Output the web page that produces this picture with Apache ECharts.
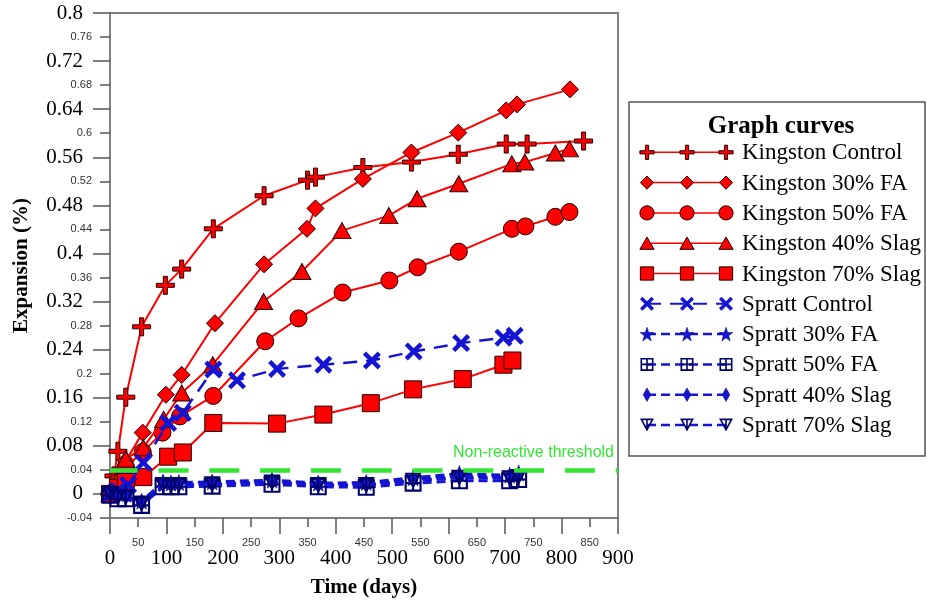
<!DOCTYPE html>
<html>
<head>
<meta charset="utf-8">
<title>Expansion vs time</title>
<script src="https://cdn.jsdelivr.net/npm/echarts@6/dist/echarts.min.js"></script>
<style>
  html, body { margin: 0; padding: 0; background: #fff; }
  #chart { width: 927px; height: 603px; }
</style>
</head>
<body>
<div id="chart"></div>
<script>
// tick values
const xMajorTicks = [0, 100, 200, 300, 400, 500, 600, 700, 800, 900];
const xMinorTicks = [50, 150, 250, 350, 450, 550, 650, 750, 850];
const yMajorTicks = [0, 0.08, 0.16, 0.24, 0.32, 0.4, 0.48, 0.56, 0.64, 0.72, 0.8];
const yMinorTicks = [-0.04, 0.04, 0.12, 0.2, 0.28, 0.36, 0.44, 0.52, 0.6, 0.68, 0.76];

const seriesNames = ['Kingston Control', 'Kingston 30% FA', 'Kingston 50% FA', 'Kingston 40% Slag', 'Kingston 70% Slag',
  'Spratt Control', 'Spratt 30% FA', 'Spratt 50% FA', 'Spratt 40% Slag', 'Spratt 70% Slag'];

// Kingston
const kControlDays = [0, 7, 14, 28, 56, 98, 127, 183, 273, 350, 364, 448, 534, 617, 702, 739, 839];
const kControlVals = [0, 0.03, 0.071, 0.161, 0.278, 0.347, 0.374, 0.441, 0.496, 0.522, 0.527, 0.543, 0.552, 0.565, 0.582, 0.582, 0.587];
const k30FADays = [0, 14, 28, 58, 99, 127, 186, 273, 349, 364, 448, 534, 617, 702, 721, 815];
const k30FAVals = [0, 0.03, 0.055, 0.102, 0.165, 0.198, 0.284, 0.382, 0.441, 0.475, 0.524, 0.568, 0.601, 0.638, 0.648, 0.673];
const k50FADays = [0, 14, 28, 58, 93, 124, 183, 275, 334, 412, 495, 545, 618, 712, 736, 789, 814];
const k50FAVals = [0, 0.02, 0.045, 0.07, 0.102, 0.129, 0.163, 0.254, 0.292, 0.335, 0.355, 0.377, 0.403, 0.441, 0.445, 0.461, 0.469];
const k40SlagDays = [0, 14, 28, 59, 95, 127, 182, 272, 340, 411, 494, 544, 618, 712, 735, 789, 814];
const k40SlagVals = [0, 0.025, 0.058, 0.077, 0.124, 0.168, 0.215, 0.32, 0.37, 0.438, 0.463, 0.491, 0.516, 0.549, 0.552, 0.567, 0.574];
const k70SlagDays = [0, 14, 28, 59, 103, 129, 183, 296, 378, 462, 537, 625, 697, 713];
const k70SlagVals = [0, 0.01, 0.02, 0.028, 0.062, 0.069, 0.118, 0.117, 0.132, 0.151, 0.174, 0.191, 0.215, 0.222];

// Spratt
const sControlDays = [0, 14, 32, 59, 103, 129, 183, 225, 296, 378, 464, 538, 622, 697, 717];
const sControlVals = [0, 0.005, 0.015, 0.052, 0.118, 0.135, 0.207, 0.189, 0.208, 0.215, 0.222, 0.237, 0.251, 0.26, 0.263];
const sMixDays = [0, 14, 28, 56, 94, 108, 122, 181, 287, 369, 454, 537, 619, 708, 724];
const s30FAVals = [0.002, 0, 0.003, -0.012, 0.02, 0.018, 0.019, 0.02, 0.023, 0.018, 0.019, 0.027, 0.034, 0.031, 0.035];
const s50FAVals = [-0.002, -0.008, -0.008, -0.019, 0.012, 0.012, 0.012, 0.013, 0.016, 0.012, 0.011, 0.018, 0.022, 0.022, 0.024];
const s40SlagVals = [0, -0.004, -0.002, -0.015, 0.017, 0.016, 0.016, 0.017, 0.02, 0.016, 0.016, 0.024, 0.03, 0.028, 0.031];
const s70SlagVals = [0, -0.006, -0.006, -0.016, 0.015, 0.015, 0.015, 0.016, 0.019, 0.015, 0.015, 0.022, 0.027, 0.026, 0.028];

const thresholdValue = 0.04;

const RED = '#ff0000', BLUE = '#1414d2', NAVY = '#00006a', GREEN = '#33e633';
const SERIF = '"Liberation Serif", "DejaVu Serif", serif';
const SANS = '"Liberation Sans", Arial, sans-serif';

// marker shapes
const SYM = {
  plus: 'M7,0H11V7H18V11H11V18H7V11H0V7H7Z',
  diamond: 'M9,0L18,9L9,18L0,9Z',
  circle: 'M0,9A9,9 0 1 1 18,9A9,9 0 1 1 0,9Z',
  triangle: 'M9,0L18,16H0Z',
  square: 'M0,0H18V18H0Z',
  cross: 'M0,3.5L3.5,0L10,6.5L16.5,0L20,3.5L13.5,10L20,16.5L16.5,20L10,13.5L3.5,20L0,16.5L6.5,10Z',
  star: 'M10,0.5L12.35,7.26L19.51,7.41L13.8,11.74L15.88,18.59L10,14.5L4.12,18.59L6.2,11.74L0.49,7.41L7.65,7.26Z',
  boxplus: 'M0,0H18V18H0Z M2.2,2.2V7.9H7.9V2.2Z M10.1,2.2V7.9H15.8V2.2Z M2.2,10.1V15.8H7.9V10.1Z M10.1,10.1V15.8H15.8V10.1Z',
  thinDiamond: 'M5,0L10,9L5,18L0,9Z',
  invTri: 'M0,0H18L9,16Z M3.5,2L8,9.94V2Z M10,2V9.94L14.5,2Z'
};

const looks = [
  { sym: 'plus', size: [18, 18], leg: [15, 15], fill: RED, border: '#220000', bw: 1, line: RED, width: 2, dash: null },
  { sym: 'diamond', size: [17, 17], leg: [14, 14], fill: RED, border: '#220000', bw: 1, line: RED, width: 2, dash: null },
  { sym: 'circle', size: [17, 17], leg: [15, 15], fill: RED, border: '#220000', bw: 1, line: RED, width: 2, dash: null },
  { sym: 'triangle', size: [18, 16], leg: [15, 13], fill: RED, border: '#220000', bw: 1, line: RED, width: 2, dash: null },
  { sym: 'square', size: [17, 17], leg: [14, 14], fill: RED, border: '#220000', bw: 1, line: RED, width: 2, dash: null },
  { sym: 'cross', size: [18, 18], leg: [14, 14], fill: BLUE, border: BLUE, bw: 0, line: BLUE, width: 2.5, dash: [14, 9] },
  { sym: 'star', size: [16, 16], leg: [14, 14], fill: BLUE, border: NAVY, bw: 0.5, line: BLUE, width: 3, dash: [9, 5] },
  { sym: 'boxplus', size: [17, 17], leg: [13, 13], fill: NAVY, border: NAVY, bw: 0, line: BLUE, width: 3, dash: [9, 5] },
  { sym: 'thinDiamond', size: [9, 17], leg: [8, 14], fill: BLUE, border: NAVY, bw: 0.5, line: BLUE, width: 3, dash: [9, 5] },
  { sym: 'invTri', size: [17, 16], leg: [14, 13], fill: NAVY, border: NAVY, bw: 0, line: BLUE, width: 3, dash: [9, 5] }
];

const dataSets = [
  [kControlDays, kControlVals], [k30FADays, k30FAVals], [k50FADays, k50FAVals],
  [k40SlagDays, k40SlagVals], [k70SlagDays, k70SlagVals],
  [sControlDays, sControlVals], [sMixDays, s30FAVals], [sMixDays, s50FAVals],
  [sMixDays, s40SlagVals], [sMixDays, s70SlagVals]
];

const series = seriesNames.map((name, i) => {
  const lk = looks[i];
  const [days, vals] = dataSets[i];
  return {
    name: name,
    type: 'line',
    data: days.map((d, j) => [d, vals[j]]),
    symbol: 'path://' + SYM[lk.sym],
    symbolSize: lk.size,
    showAllSymbol: true,
    lineStyle: { color: lk.line, width: lk.width, type: lk.dash || 'solid' },
    itemStyle: { color: lk.fill, borderColor: lk.border, borderWidth: lk.bw },
    z: 2 + i
  };
});

// threshold line and its label
series[0].markLine = {
  silent: true,
  symbol: ['none', 'none'],
  z: 20,
  data: [{ yAxis: thresholdValue }],
  lineStyle: { color: GREEN, width: 4.5, type: [30, 20.8], dashOffset: 2.3 },
  label: {
    show: true, position: 'insideEndTop', formatter: 'Non-reactive threshold',
    color: GREEN, fontSize: 16, fontFamily: SANS, distance: [4, 9]
  },
  emphasis: { disabled: true }
};

// legend drawn as graphic, three markers per row like the original
const legX = [647, 687, 726];
const legTextX = 742;
const rowY0 = 152.3, rowStep = 30.3;
const graphic = [
  { type: 'rect', shape: { x: 629, y: 102, width: 296, height: 354 },
    style: { fill: '#fff', stroke: '#555', lineWidth: 1.5 }, z: 100 },
  { type: 'text', x: 781, y: 127, z: 101,
    style: { text: 'Graph curves', font: 'bold 25px ' + SERIF, fill: '#000',
      align: 'center', verticalAlign: 'middle', textAlign: 'center', textVerticalAlign: 'middle' } }
];
seriesNames.forEach((name, i) => {
  const lk = looks[i];
  const y = rowY0 + i * rowStep;
  graphic.push({ type: 'line', z: 101,
    shape: { x1: legX[0], y1: y, x2: legX[2], y2: y },
    style: { stroke: lk.line, lineWidth: lk.width - 0.5, lineDash: lk.dash || null } });
  graphic.push({ type: 'text', x: legTextX, y: y + 1, z: 101,
    style: { text: name, font: '23px ' + SERIF, fill: '#000',
      align: 'left', verticalAlign: 'middle', textAlign: 'left', textVerticalAlign: 'middle' } });
});

const axisLineStyle = { color: '#808080', width: 2 };

const option = {
  animation: false,
  backgroundColor: '#fff',
  grid: { left: 110, top: 13, right: 309, bottom: 82, show: true, borderColor: '#808080', borderWidth: 2 },
  xAxis: [
    {
      type: 'value', min: 0, max: 900, interval: 50, position: 'bottom',
      axisLine: { show: true, onZero: false, lineStyle: axisLineStyle },
      axisTick: { show: true, length: 9, customValues: xMinorTicks, lineStyle: { color: '#555', width: 1.5 } },
      axisLabel: { customValues: xMinorTicks, fontSize: 11, fontFamily: SANS, color: '#333', margin: 19 },
      splitLine: { show: false },
      name: 'Time (days)', nameLocation: 'middle', nameGap: 59,
      nameTextStyle: { fontSize: 21, fontWeight: 'bold', fontFamily: SERIF, color: '#000' }
    },
    {
      type: 'value', min: 0, max: 900, interval: 100, position: 'bottom',
      axisLine: { show: false, onZero: false },
      axisTick: { show: true, length: 16, customValues: xMajorTicks, lineStyle: { color: '#555', width: 1.5 } },
      axisLabel: { customValues: xMajorTicks, fontSize: 21, fontFamily: SERIF, color: '#000', margin: 30 },
      splitLine: { show: false }
    }
  ],
  yAxis: [
    {
      type: 'value', min: -0.04, max: 0.8, interval: 0.04, position: 'left',
      axisLine: { show: true, onZero: false, lineStyle: axisLineStyle },
      axisTick: { show: true, length: 10, customValues: yMinorTicks, lineStyle: { color: '#555', width: 1.5 } },
      axisLabel: { customValues: yMinorTicks, fontSize: 11, fontFamily: SANS, color: '#333', margin: 18 },
      splitLine: { show: false },
      name: 'Expansion (%)', nameLocation: 'middle', nameGap: 78,
      nameTextStyle: { fontSize: 21, fontWeight: 'bold', fontFamily: SERIF, color: '#000' }
    },
    {
      type: 'value', min: -0.04, max: 0.8, interval: 0.04, position: 'left',
      axisLine: { show: false, onZero: false },
      axisTick: { show: true, length: 17, customValues: yMajorTicks, lineStyle: { color: '#555', width: 1.5 } },
      axisLabel: { customValues: yMajorTicks, fontSize: 21, fontFamily: SERIF, color: '#000', margin: 27 },
      splitLine: { show: false }
    }
  ],
  graphic: graphic,
  series: series
};

const chart = echarts.init(document.getElementById('chart'), null, { renderer: 'canvas' });
chart.setOption(option);

// legend markers: same path shapes as the series symbols
const zr = chart.getZr();
seriesNames.forEach((name, i) => {
  const lk = looks[i];
  const y = rowY0 + i * rowStep;
  legX.forEach(x => {
    const p = echarts.graphic.makePath(SYM[lk.sym], {
      style: { fill: lk.fill, stroke: lk.bw ? lk.border : null, lineWidth: lk.bw },
      z: 110
    }, { x: x - lk.leg[0] / 2, y: y - lk.leg[1] / 2, width: lk.leg[0], height: lk.leg[1] }, 'cover');
    zr.add(p);
  });
});
</script>
</body>
</html>
